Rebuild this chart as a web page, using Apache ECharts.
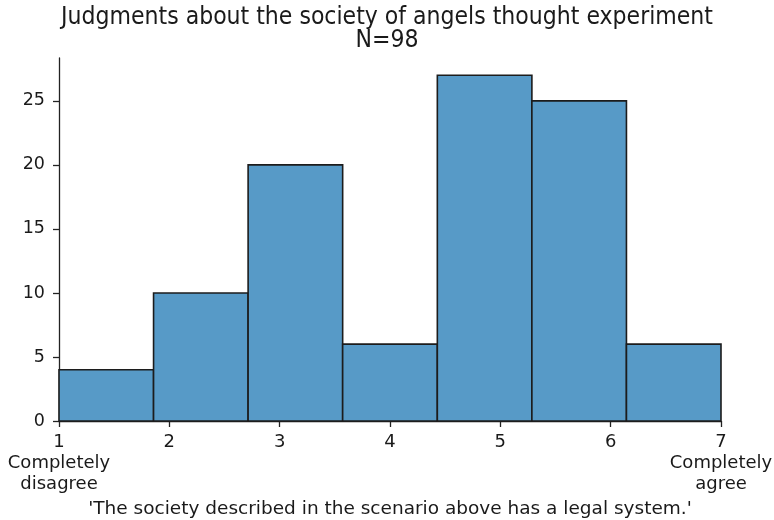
<!DOCTYPE html>
<html>
<head>
<meta charset="utf-8">
<script src="https://cdn.jsdelivr.net/npm/echarts@6/dist/echarts.min.js"></script>
<style>
  html, body { margin: 0; padding: 0; background: #fff; }
  #chart { width: 774px; height: 520px; }
</style>
</head>
<body>
<div id="chart"></div>
<script>
// Histogram of responses on a 1–7 agreement scale (7 equal-width bins)
const binEdges = [1, 1.857, 2.714, 3.571, 4.429, 5.286, 6.143, 7];
const counts = [4, 10, 20, 6, 27, 25, 6];
const xTicks = [1, 2, 3, 4, 5, 6, 7];
const xTickLabels = {
  1: '1\nCompletely\ndisagree',
  7: '7\nCompletely\nagree'
};
const yTicks = [0, 5, 10, 15, 20, 25];

const titleText = 'Judgments about the society of angels thought experiment\nN=98';
const xAxisTitle = "'The society described in the scenario above has a legal system.'";

const bins = counts.map((c, i) => [binEdges[i], binEdges[i + 1], c]);

const FONT = 'DejaVu Sans';
const chart = echarts.init(document.getElementById('chart'), null, { renderer: 'canvas' });

chart.setOption({
  animation: false,
  backgroundColor: '#ffffff',
  title: {
    text: titleText,
    left: 'center',
    top: 1,
    textStyle: {
      fontFamily: 'DejaVu Sans Condensed',
      fontSize: 24.5,
      fontWeight: 'normal',
      color: '#1a1a1a',
      lineHeight: 23
    }
  },
  grid: {
    left: 59, right: 53, top: 58, bottom: 99,
    containLabel: false,
    outerBoundsMode: 'none'
  },
  xAxis: {
    type: 'value',
    min: 1,
    max: 7,
    interval: 1,
    splitLine: { show: false },
    axisLine: { show: true, lineStyle: { color: '#222', width: 1.3 } },
    axisTick: { show: true, length: 6, lineStyle: { color: '#222', width: 1.3 } },
    axisLabel: {
      fontFamily: FONT,
      fontSize: 18,
      color: '#1a1a1a',
      margin: 11,
      lineHeight: 21,
      showMinLabel: true,
      showMaxLabel: true,
      formatter: v => (xTicks.indexOf(v) >= 0 ? (xTickLabels[v] || String(v)) : '')
    },
    name: xAxisTitle,
    nameLocation: 'middle',
    nameGap: 74,
    nameTextStyle: { fontFamily: FONT, fontSize: 18.5, color: '#1a1a1a' }
  },
  yAxis: {
    type: 'value',
    min: 0,
    max: 28.35,
    interval: 5,
    splitLine: { show: false },
    axisLine: { show: true, lineStyle: { color: '#222', width: 1.3 } },
    axisTick: { show: true, length: 6, lineStyle: { color: '#222', width: 1.3 } },
    axisLabel: {
      fontFamily: FONT,
      fontSize: 17.5,
      color: '#1a1a1a',
      margin: 14,
      showMaxLabel: false,
      formatter: v => (yTicks.indexOf(v) >= 0 ? String(v) : '')
    }
  },
  series: [{
    type: 'custom',
    data: bins,
    encode: { x: [0, 1], y: 2 },
    renderItem: function (params, api) {
      const p0 = api.coord([api.value(0), api.value(2)]);
      const p1 = api.coord([api.value(1), 0]);
      return {
        type: 'rect',
        shape: { x: p0[0], y: p0[1], width: p1[0] - p0[0], height: p1[1] - p0[1] },
        style: { fill: '#579ac7', stroke: '#1c1c1c', lineWidth: 1.6 }
      };
    }
  }]
});
</script>
</body>
</html>
